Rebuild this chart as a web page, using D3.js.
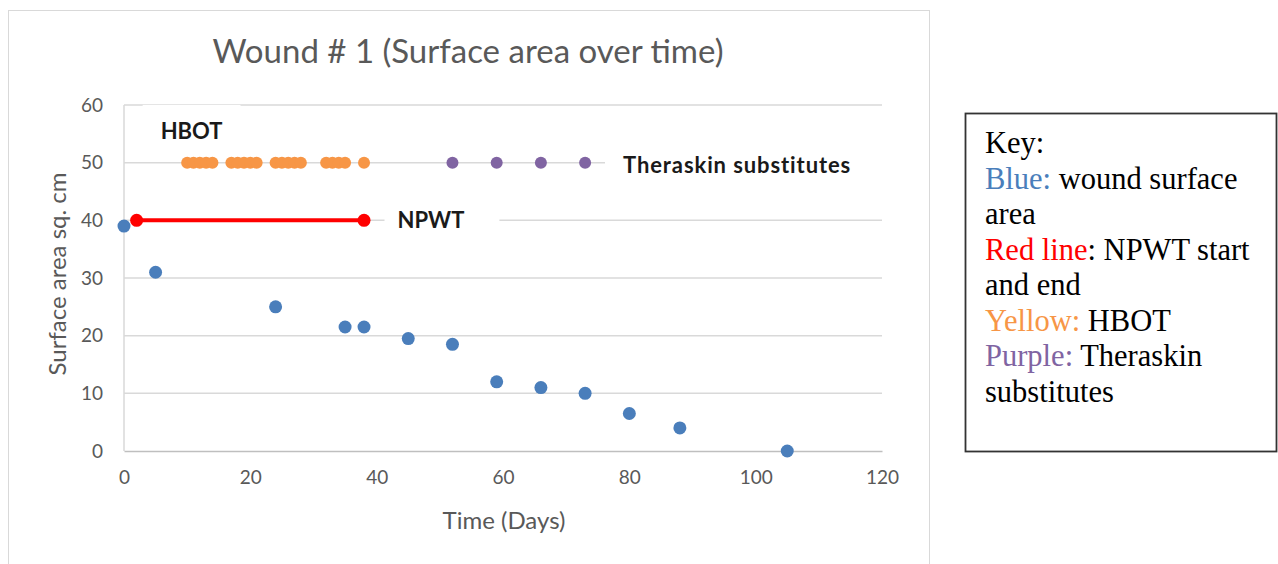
<!DOCTYPE html>
<html>
<head>
<meta charset="utf-8">
<script src="https://cdn.jsdelivr.net/npm/d3@7"></script>
<style>
    body { margin: 0; background: #fff; }
    svg { display: block; }
</style>
</head>
<body>
<svg id="chart" width="1278" height="564"></svg>
<script>
/* wound #1 surface area chart */

const woundDays = [0, 5, 24, 35, 38, 45, 52, 59, 66, 73, 80, 88, 105];
const woundArea = [39, 31, 25, 21.5, 21.5, 19.5, 18.5, 12, 11, 10, 6.5, 4, 0];

const npwtDays = [2, 38];
const npwtLevel = 40;

const hbotDays = [10, 11, 12, 13, 14, 17, 18, 19, 20, 21, 24, 25, 26, 27, 28, 32, 33, 34, 35, 38];
const hbotLevel = 50;

const theraskinDays = [52, 59, 66, 73];
const theraskinLevel = 50;

const xTicks = [0, 20, 40, 60, 80, 100, 120];
const yTicks = [0, 10, 20, 30, 40, 50, 60];

const keyLines = [
    [["Key:", "#000"]],
    [["Blue:", "#4a7ebb"], [" wound surface", "#000"]],
    [["area", "#000"]],
    [["Red line", "#ff0000"], [": NPWT start", "#000"]],
    [["and end", "#000"]],
    [["Yellow:", "#f79646"], [" HBOT", "#000"]],
    [["Purple:", "#8064a2"], [" Theraskin", "#000"]],
    [["substitutes", "#000"]]
];

const svg = d3.select("#chart");
const font = "Lato, 'Open Sans', sans-serif";
const grey = "#595959";

const x = d3.scaleLinear().domain([0, 120]).range([124, 882]);
const y = d3.scaleLinear().domain([0, 60]).range([451, 105]);

// chart area frame
svg.append("rect")
    .attr("x", 8.5).attr("y", 10.5)
    .attr("width", 921).attr("height", 600)
    .attr("fill", "#fff")
    .attr("stroke", "#d9d9d9");

svg.append("text")
    .attr("x", 468).attr("y", 63)
    .attr("text-anchor", "middle")
    .attr("font-family", font).attr("font-size", 33)
    .attr("fill", grey)
    .text("Wound # 1 (Surface area over time)");

// gridlines
svg.append("g")
    .selectAll("line")
    .data(yTicks.filter(d => d > 0))
    .join("line")
    .attr("x1", x(0)).attr("x2", x(120))
    .attr("y1", d => y(d)).attr("y2", d => y(d))
    .attr("stroke", "#d9d9d9").attr("stroke-width", 1.5);

svg.append("line")
    .attr("x1", x(0)).attr("x2", x(0))
    .attr("y1", y(0)).attr("y2", y(60))
    .attr("stroke", "#d9d9d9").attr("stroke-width", 1.5);

const xAxis = svg.append("g")
    .attr("transform", `translate(0,${y(0)})`)
    .call(d3.axisBottom(x).tickValues(xTicks).tickSize(0).tickPadding(20));
xAxis.select(".domain").attr("stroke", "#bfbfbf").attr("stroke-width", 1.5);
xAxis.selectAll("text").attr("font-family", font).attr("font-size", 19).attr("fill", grey);

const yAxis = svg.append("g")
    .attr("transform", `translate(${x(0)},0)`)
    .call(d3.axisLeft(y).tickValues(yTicks).tickSize(0).tickPadding(21));
yAxis.select(".domain").remove();
yAxis.selectAll("text").attr("font-family", font).attr("font-size", 19).attr("fill", grey);

svg.append("text")
    .attr("x", 504).attr("y", 529)
    .attr("text-anchor", "middle")
    .attr("font-family", font).attr("font-size", 24)
    .attr("fill", grey)
    .text("Time (Days)");

svg.append("text")
    .attr("transform", `translate(66,${y(30) - 4}) rotate(-90)`)
    .attr("text-anchor", "middle")
    .attr("font-family", font).attr("font-size", 24)
    .attr("fill", grey)
    .text("Surface area sq. cm");

// annotation labels with white backgrounds
function label(text, dx, dy, padLeft, padRight, padV, spacing) {
    const g = svg.append("g");
    const t = g.append("text")
        .attr("x", x(dx)).attr("y", y(dy))
        .attr("font-family", font).attr("font-size", 22).attr("font-weight", "bold")
        .attr("letter-spacing", spacing)
        .attr("fill", "#1a1a1a")
        .attr("dominant-baseline", "central")
        .text(text);
    const b = t.node().getBBox();
    g.insert("rect", "text")
        .attr("x", b.x - padLeft).attr("y", b.y - padV)
        .attr("width", b.width + padLeft + padRight)
        .attr("height", b.height + 2 * padV)
        .attr("fill", "#fff");
}

label("HBOT", 5.8, 55.6, 18, 18, 12, 0);
label("Theraskin substitutes", 79, 49.7, 18, 40, 6, 0.9);
label("NPWT", 43.3, 40.2, 13, 35, 6, 0);

// NPWT line
svg.append("line")
    .attr("x1", x(npwtDays[0])).attr("x2", x(npwtDays[1]))
    .attr("y1", y(npwtLevel)).attr("y2", y(npwtLevel))
    .attr("stroke", "#ff0000").attr("stroke-width", 4);

svg.append("g")
    .selectAll("circle")
    .data(npwtDays)
    .join("circle")
    .attr("cx", d => x(d)).attr("cy", y(npwtLevel))
    .attr("r", 6.5)
    .attr("fill", "#ff0000");

svg.append("g")
    .selectAll("circle")
    .data(hbotDays)
    .join("circle")
    .attr("cx", d => x(d)).attr("cy", y(hbotLevel))
    .attr("r", 6)
    .attr("fill", "#f79646");

svg.append("g")
    .selectAll("circle")
    .data(theraskinDays)
    .join("circle")
    .attr("cx", d => x(d)).attr("cy", y(theraskinLevel))
    .attr("r", 6)
    .attr("fill", "#8064a2");

svg.append("g")
    .selectAll("circle")
    .data(woundDays.map((d, i) => [d, woundArea[i]]))
    .join("circle")
    .attr("cx", d => x(d[0])).attr("cy", d => y(d[1]))
    .attr("r", 6.5)
    .attr("fill", "#4a7ebb");

// key box
svg.append("rect")
    .attr("x", 965.5).attr("y", 113.5)
    .attr("width", 311).attr("height", 338)
    .attr("fill", "#fff")
    .attr("stroke", "#333").attr("stroke-width", 1.8);

const key = svg.append("text")
    .attr("font-family", "'Liberation Serif', 'Times New Roman', serif")
    .attr("font-size", 30.5);

keyLines.forEach((line, i) => {
    line.forEach((part, j) => {
        const span = key.append("tspan")
            .attr("fill", part[1])
            .attr("xml:space", "preserve")
            .text(part[0]);
        if (j === 0) span.attr("x", 985).attr("y", 153 + i * 35.5);
    });
});
</script>
</body>
</html>
